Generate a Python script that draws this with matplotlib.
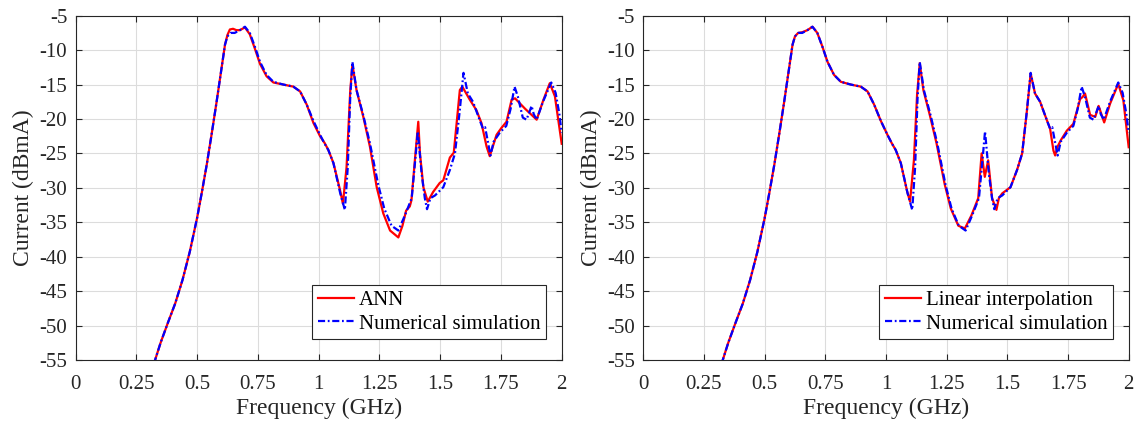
import matplotlib
matplotlib.use("Agg")
import matplotlib.pyplot as plt

plt.rcParams["font.family"] = ["Liberation Serif", "DejaVu Serif"]
plt.rcParams["axes.unicode_minus"] = False

# Numerical simulation (reference solver output), frequency in GHz, current in dBmA
sim_freq = [0.322, 0.350, 0.380, 0.410, 0.440, 0.470, 0.500, 0.520, 0.540, 0.560,
            0.580, 0.600, 0.615, 0.625, 0.638, 0.655, 0.676, 0.697, 0.717, 0.738,
            0.759, 0.786, 0.814, 0.855, 0.896, 0.924, 0.951, 0.979, 1.006, 1.025,
            1.040, 1.061, 1.089, 1.108, 1.120, 1.130, 1.139, 1.156, 1.184, 1.211,
            1.245, 1.270, 1.300, 1.328, 1.355, 1.383, 1.400, 1.408, 1.424, 1.437,
            1.446, 1.460, 1.479, 1.513, 1.540, 1.561, 1.580, 1.596, 1.614, 1.635,
            1.662, 1.676, 1.685, 1.707, 1.720, 1.745, 1.772, 1.790, 1.806, 1.820,
            1.840, 1.855, 1.867, 1.876, 1.885, 1.897, 1.923, 1.957, 1.975, 1.990,
            2.000]
sim_db = [-55.6, -52.5, -49.6, -46.8, -43.4, -39.3, -34.4, -30.6, -26.6, -22.2,
          -17.6, -12.8, -9.2, -8.0, -7.5, -7.5, -7.1, -6.6, -7.5, -9.5,
          -11.7, -13.6, -14.6, -15.0, -15.3, -16.0, -17.9, -20.3, -22.3, -23.6,
          -24.5, -26.4, -30.8, -33.2, -27.0, -17.0, -11.7, -15.8, -19.5, -23.5,
          -29.5, -33.0, -35.5, -36.2, -34.0, -31.5, -25.0, -21.8, -28.0, -31.5,
          -33.1, -31.5, -31.1, -29.9, -27.4, -25.0, -19.0, -13.3, -16.3, -17.5,
          -20.1, -21.4, -21.2, -25.3, -23.3, -22.0, -21.0, -18.5, -15.3, -16.8,
          -19.8, -20.1, -19.0, -18.1, -19.3, -20.1, -17.5, -14.7, -16.2, -19.2,
          -22.0]

# ANN prediction
ann_freq = [0.322, 0.350, 0.380, 0.410, 0.440, 0.470, 0.500, 0.520, 0.540, 0.560,
            0.580, 0.600, 0.615, 0.625, 0.635, 0.648, 0.662, 0.676, 0.697, 0.717,
            0.738, 0.759, 0.786, 0.814, 0.855, 0.896, 0.924, 0.951, 0.979, 1.006,
            1.025, 1.040, 1.061, 1.088, 1.100, 1.115, 1.130, 1.139, 1.156, 1.184,
            1.211, 1.239, 1.266, 1.294, 1.328, 1.345, 1.360, 1.375, 1.382, 1.396,
            1.410, 1.417, 1.431, 1.449, 1.471, 1.498, 1.513, 1.540, 1.556, 1.581,
            1.591, 1.622, 1.649, 1.670, 1.691, 1.704, 1.732, 1.752, 1.773, 1.794,
            1.808, 1.849, 1.897, 1.925, 1.951, 1.972, 2.000]
ann_db = [-55.6, -52.5, -49.6, -46.8, -43.4, -39.3, -34.4, -30.6, -26.6, -22.2,
          -17.6, -12.8, -9.2, -7.8, -7.0, -6.9, -7.1, -7.1, -6.7, -7.7,
          -9.8, -12.0, -13.8, -14.7, -15.0, -15.3, -16.0, -17.9, -20.6, -22.5,
          -23.5, -24.5, -26.4, -30.3, -32.3, -27.0, -16.0, -12.1, -15.8, -19.7,
          -24.0, -29.9, -33.7, -36.2, -37.2, -35.5, -33.3, -32.7, -31.8, -26.0,
          -20.4, -25.0, -29.9, -32.0, -30.6, -29.3, -28.9, -25.6, -24.9, -15.8,
          -15.3, -17.2, -18.7, -20.6, -24.0, -25.4, -22.3, -21.3, -20.4, -17.2,
          -17.0, -18.5, -20.1, -17.2, -14.8, -16.7, -23.6]

# Linear interpolation estimate
lin_freq = [0.322, 0.350, 0.380, 0.410, 0.440, 0.470, 0.500, 0.520, 0.540, 0.560,
            0.580, 0.600, 0.615, 0.625, 0.638, 0.655, 0.676, 0.697, 0.717, 0.738,
            0.759, 0.786, 0.814, 0.855, 0.896, 0.924, 0.951, 0.979, 1.006, 1.025,
            1.040, 1.061, 1.087, 1.099, 1.115, 1.128, 1.139, 1.154, 1.181, 1.208,
            1.242, 1.267, 1.298, 1.325, 1.352, 1.380, 1.394, 1.407, 1.421, 1.437,
            1.455, 1.465, 1.479, 1.513, 1.540, 1.561, 1.580, 1.596, 1.614, 1.635,
            1.662, 1.676, 1.690, 1.697, 1.707, 1.720, 1.745, 1.772, 1.800, 1.810,
            1.820, 1.841, 1.862, 1.876, 1.899, 1.923, 1.957, 1.978, 2.000]
lin_db = [-55.6, -52.5, -49.6, -46.8, -43.4, -39.3, -34.4, -30.6, -26.6, -22.2,
          -17.6, -12.8, -9.2, -8.0, -7.5, -7.4, -7.1, -6.6, -7.5, -9.5,
          -11.7, -13.6, -14.6, -15.0, -15.3, -16.0, -17.9, -20.3, -22.3, -23.6,
          -24.5, -26.4, -30.5, -32.0, -26.0, -16.5, -11.9, -15.8, -19.5, -23.5,
          -29.5, -33.0, -35.5, -35.9, -34.0, -31.5, -25.0, -28.4, -26.0, -31.5,
          -33.2, -31.5, -30.8, -29.9, -27.4, -25.0, -19.0, -13.4, -16.3, -17.5,
          -20.1, -21.4, -24.6, -25.3, -24.0, -23.1, -21.7, -20.7, -17.1, -16.8,
          -16.3, -19.4, -19.7, -18.1, -20.5, -17.8, -14.9, -17.3, -24.1]

x_ticks = [0, 0.25, 0.5, 0.75, 1, 1.25, 1.5, 1.75, 2]
x_ticklabels = ["0", "0.25", "0.5", "0.75", "1", "1.25", "1.5", "1.75", "2"]
y_ticks = [-55, -50, -45, -40, -35, -30, -25, -20, -15, -10, -5]

panels = [
    (ann_freq, ann_db, "ANN"),
    (lin_freq, lin_db, "Linear interpolation"),
]

W, H = 1144, 426
fig = plt.figure(figsize=(W / 100, H / 100), dpi=100)
axes_px = [(75.5, 561.7), (643.3, 1128.7)]
top_px, bot_px = 15.7, 360.0

text_col = "#262626"
for (x0, x1), (fx, fy, lab) in zip(axes_px, panels):
    ax = fig.add_axes([x0 / W, 1 - bot_px / H, (x1 - x0) / W, (bot_px - top_px) / H])
    ax.plot(fx, fy, color="red", lw=1.6, label=lab, zorder=3)
    ax.plot(sim_freq, sim_db, color="blue", lw=1.6,
            linestyle=(0, (3.2, 1.2, 0.8, 1.2)), label="Numerical simulation", zorder=4)
    ax.set_xlim(0, 2)
    ax.set_ylim(-55, -5)
    ax.set_xticks(x_ticks)
    ax.set_xticklabels(x_ticklabels)
    ax.set_yticks(y_ticks)
    ax.set_yticklabels([str(v) for v in y_ticks])
    ax.grid(True, color="#dcdcdc", lw=0.8)
    ax.set_axisbelow(True)
    ax.tick_params(direction="in", top=True, right=True, length=4, width=0.8,
                   colors=text_col, labelsize=15)
    ax.tick_params(axis="x", pad=10.5)
    ax.tick_params(axis="y", pad=6)
    for s in ax.spines.values():
        s.set_color(text_col)
        s.set_linewidth(0.8)
    ax.set_xlabel("Frequency (GHz)", fontsize=17, color=text_col, labelpad=3)
    ax.set_ylabel("Current (dBmA)", fontsize=17, color=text_col, labelpad=4)
    leg = ax.legend(loc="lower right", bbox_to_anchor=(1 - 15.7 / (x1 - x0), 21 / (bot_px - top_px)),
                    borderaxespad=0, fontsize=15, frameon=True, fancybox=False,
                    handlelength=1.75, handletextpad=0.25, borderpad=0.25,
                    labelspacing=0.2)
    leg.get_frame().set_edgecolor(text_col)
    leg.get_frame().set_linewidth(0.8)
    leg.get_frame().set_alpha(1)

fig.savefig("out.png", dpi=100)
